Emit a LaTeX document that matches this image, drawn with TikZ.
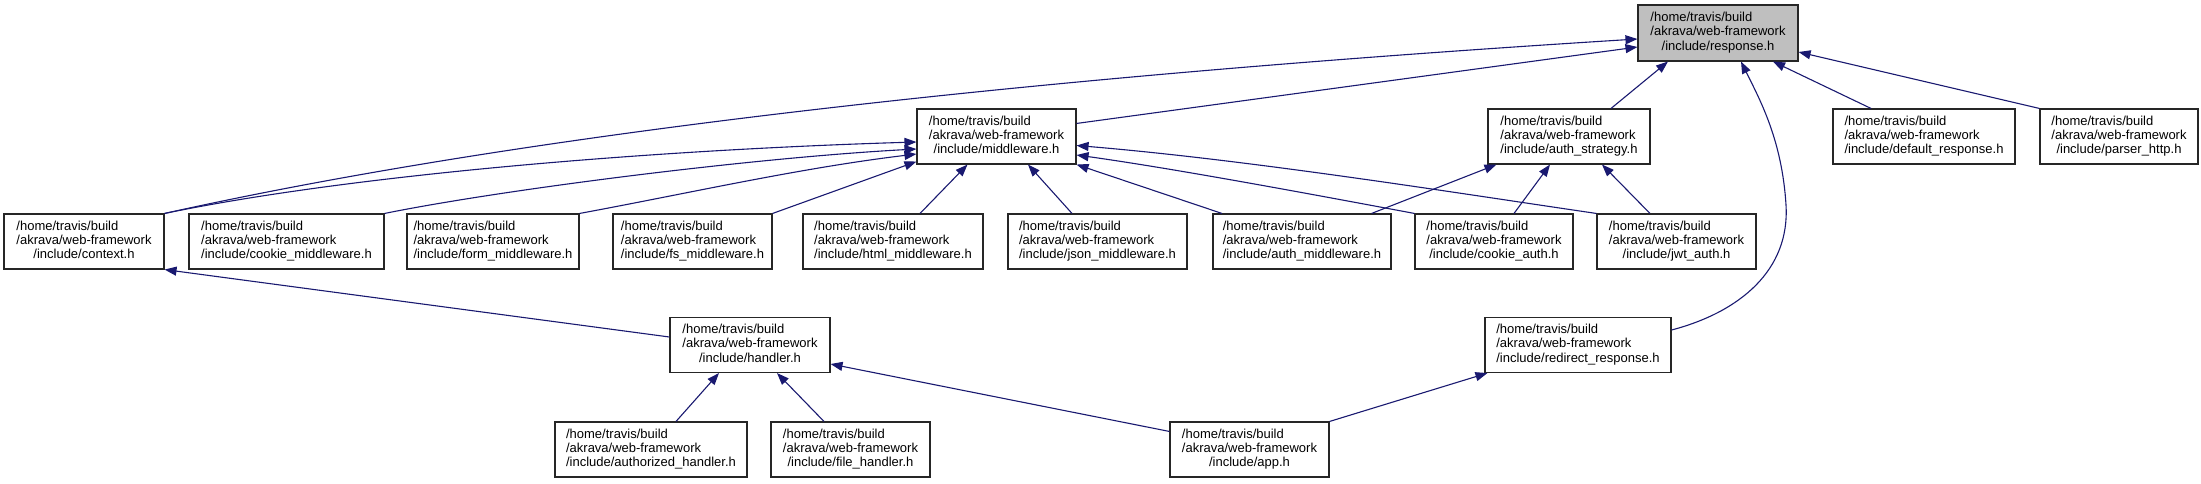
\documentclass[tikz,border=0pt]{standalone}
\usepackage{fontspec}
\setmainfont{Liberation Sans}
\usetikzlibrary{arrows.meta}
\definecolor{edgec}{HTML}{191970}
\definecolor{respfill}{HTML}{BFBFBF}
\newcommand\fpath[1]{\begin{tabular}{@{}l@{}}/home/travis/build\\/akrava/web-framework\\\multicolumn{1}{@{}c@{}}{/include/#1}\end{tabular}}
\begin{document}
\begin{tikzpicture}[x=1pt,y=1pt,
  file/.style={draw=black!85, line width=1.1pt, fill=white, minimum height=55pt, inner sep=0pt, font=\fontsize{13}{14.3}\selectfont, text=black},
  dep/.style={draw=edgec, line width=1.1pt, -{Triangle[length=12pt,width=9pt]}, fill=none}]
\useasboundingbox (0,0) rectangle (2201,-483);
% row 1
\node[file, fill=respfill, minimum width=160pt, minimum height=56pt] (resp) at (1718,-33) {\fpath{response.h}};
% row 2
\node[file, minimum width=159pt] (mw) at (996.5,-136.5) {\fpath{middleware.h}};
\node[file, minimum width=162pt] (as) at (1569,-136.5) {\fpath{auth\_strategy.h}};
\node[file, minimum width=182pt] (dr) at (1924,-136.5) {\fpath{default\_response.h}};
\node[file, minimum width=158pt] (ph) at (2119,-136.5) {\fpath{parser\_http.h}};
% row 3
\node[file, minimum width=160pt] (ctx) at (84,-241.5) {\fpath{context.h}};
\node[file, minimum width=195pt] (cmw) at (286.5,-241.5) {\fpath{cookie\_middleware.h}};
\node[file, minimum width=172pt] (fmw) at (493,-241.5) {\fpath{form\_middleware.h}};
\node[file, minimum width=159pt] (fsmw) at (692.5,-241.5) {\fpath{fs\_middleware.h}};
\node[file, minimum width=180pt] (hmw) at (893,-241.5) {\fpath{html\_middleware.h}};
\node[file, minimum width=179pt] (jmw) at (1097.5,-241.5) {\fpath{json\_middleware.h}};
\node[file, minimum width=178pt] (amw) at (1302,-241.5) {\fpath{auth\_middleware.h}};
\node[file, minimum width=158pt] (ca) at (1494,-241.5) {\fpath{cookie\_auth.h}};
\node[file, minimum width=159pt] (jwt) at (1676.5,-241.5) {\fpath{jwt\_auth.h}};
% row 4
\node[file, minimum width=160pt] (hd) at (750,-345) {\fpath{handler.h}};
\node[file, minimum width=186pt] (rr) at (1578,-345) {\fpath{redirect\_response.h}};
% row 5
\node[file, minimum width=192pt] (ah) at (651,-449.5) {\fpath{authorized\_handler.h}};
\node[file, minimum width=159pt] (fh) at (850.5,-449.5) {\fpath{file\_handler.h}};
\node[file, minimum width=159pt] (app) at (1249.5,-449.5) {\fpath{app.h}};
% edges to response.h
\draw[dep] (ctx.north east) .. controls (450,-150) and (900,-85) .. ([yshift=-6pt]resp.west);
\draw[dep] ([yshift=-15pt]mw.north east) -- ([yshift=-14pt]resp.west);
\draw[dep] ([xshift=42pt]as.north) -- ([xshift=-50pt]resp.south);
\draw[dep] ([yshift=15pt]rr.east) .. controls (1740,-312) and (1790,-270) .. (1786,-205) .. controls (1782,-140) and (1760,-100) .. ([xshift=23pt]resp.south);
\draw[dep] ([xshift=-53pt]dr.north) -- ([xshift=55pt]resp.south);
\draw[dep] (ph.north west) -- ([yshift=-19pt]resp.east);
% edges to middleware.h
\draw[dep] (ctx.north east) .. controls (350,-175) and (650,-150) .. ([yshift=-5.5pt]mw.west);
\draw[dep] (cmw.north east) .. controls (500,-190) and (750,-158) .. ([yshift=-12.5pt]mw.west);
\draw[dep] (fmw.north east) .. controls (690,-193) and (800,-168) .. ([yshift=-17.5pt]mw.west);
\draw[dep] (fsmw.north east) -- ([yshift=3pt]mw.south west);
\draw[dep] ([xshift=27pt]hmw.north) -- ([xshift=-29pt]mw.south);
\draw[dep] ([xshift=-25.5pt]jmw.north) -- ([xshift=31.5pt]mw.south);
\draw[dep] ([xshift=-80pt]amw.north) -- (mw.south east);
\draw[dep] (ca.north west) .. controls (1300,-192) and (1170,-168) .. ([yshift=-18.5pt]mw.east);
\draw[dep] (jwt.north west) .. controls (1450,-192) and (1250,-160) .. ([yshift=-9pt]mw.east);
% edges to auth_strategy.h
\draw[dep] ([xshift=-20pt]amw.north east) -- ([xshift=9pt]as.south west);
\draw[dep] ([xshift=20pt]ca.north) -- ([xshift=-19pt]as.south);
\draw[dep] ([xshift=-26.5pt]jwt.north) -- ([xshift=33pt]as.south);
% edges to context.h
\draw[dep] ([yshift=8pt]hd.west) -- (ctx.south east);
% edges to handler.h
\draw[dep] ([xshift=25pt]ah.north) -- ([xshift=-31pt]hd.south);
\draw[dep] ([xshift=-26.5pt]fh.north) -- ([xshift=27pt]hd.south);
\draw[dep] ([yshift=-10pt]app.north west) -- ([yshift=-19pt]hd.east);
% edge to redirect_response.h
\draw[dep] (app.north east) -- ([xshift=3pt]rr.south west);
\end{tikzpicture}
\end{document}
